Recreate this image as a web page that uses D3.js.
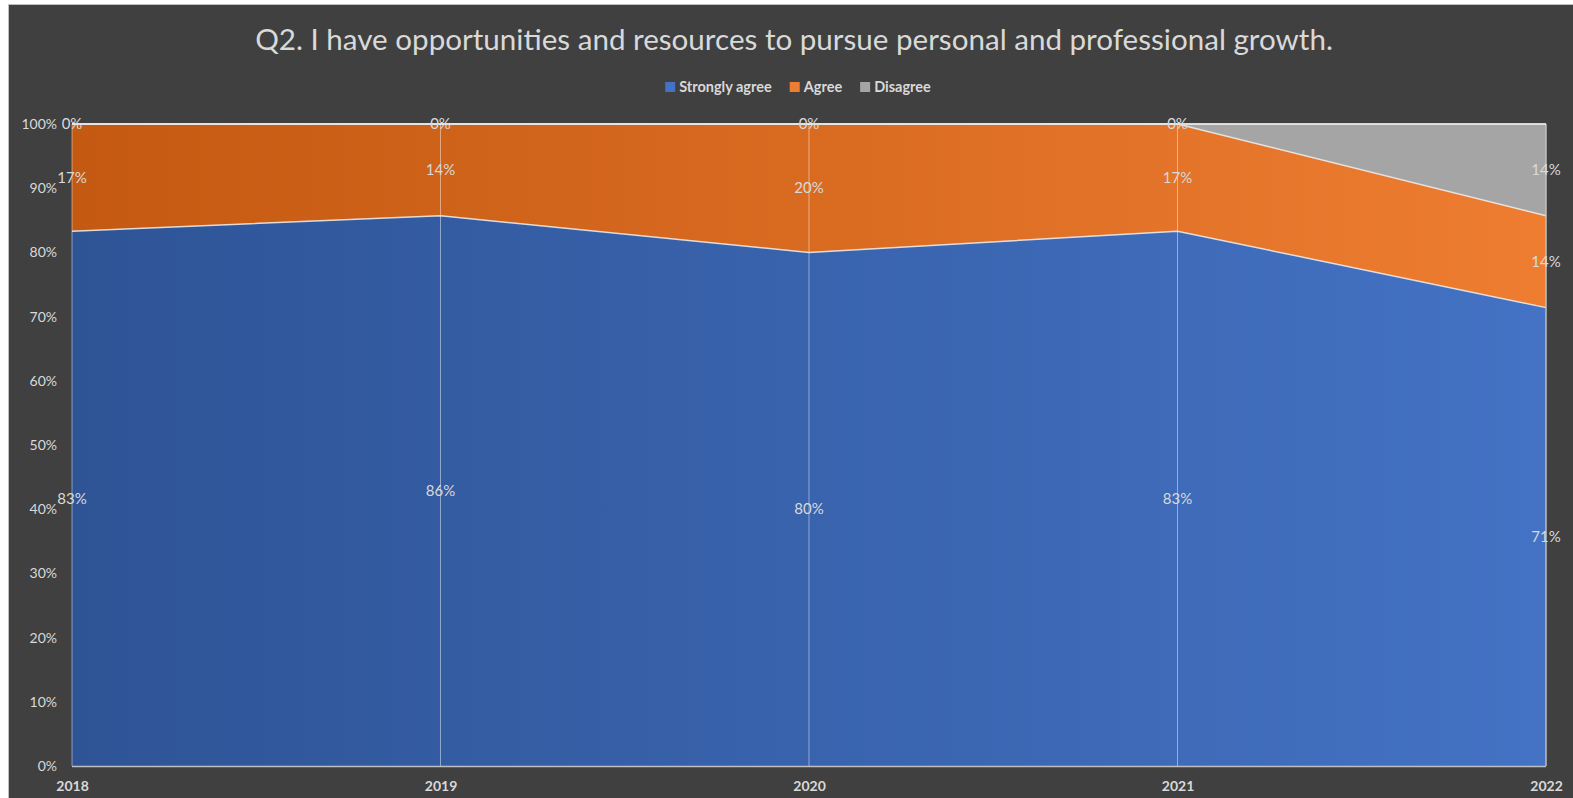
<!DOCTYPE html>
<html>
<head>
<meta charset="utf-8">
<script src="https://cdn.jsdelivr.net/npm/d3@7"></script>
<style>
  html, body { margin: 0; padding: 0; background: #ffffff; overflow: hidden; }
  svg { display: block; }
</style>
</head>
<body>
<svg id="chart" width="1573" height="798"></svg>
<script>
// Survey responses per year (share of respondents, percent)
const years = ["2018", "2019", "2020", "2021", "2022"];
const stronglyAgree = [83.3, 85.7, 80.0, 83.3, 71.4];
const agree = [16.7, 14.3, 20.0, 16.7, 14.3];
const disagree = [0, 0, 0, 0, 14.3];
const seriesNames = ["Strongly agree", "Agree", "Disagree"];
const yTicks = [0, 10, 20, 30, 40, 50, 60, 70, 80, 90, 100];
const titleText = "Q2. I have opportunities and resources to pursue personal and professional growth.";

const W = 1573, H = 798;
const margin = { left: 72, right: 1546, top: 124, bottom: 766 };
const textColor = "#d9d9d9";
const font = "Lato, 'Open Sans', sans-serif";

const svg = d3.select("#chart");

// chart frame
svg.append("rect").attr("x", 8.5).attr("y", 4.5).attr("width", W).attr("height", H)
  .attr("fill", "#404040").attr("stroke", "#bfbfbf").attr("stroke-width", 1);

const rows = years.map((y, i) => ({
  year: y,
  "Strongly agree": stronglyAgree[i],
  "Agree": agree[i],
  "Disagree": disagree[i]
}));

const stack = d3.stack().keys(seriesNames).offset(d3.stackOffsetExpand);
const layers = stack(rows);

const x = d3.scalePoint().domain(years).range([margin.left, margin.right]);
const y = d3.scaleLinear().domain([0, 1]).range([margin.bottom, margin.top]);

// horizontal gradients for each series
const defs = svg.append("defs");
const grads = [
  { id: "gBlue", from: "#2e5496", to: "#4472c4" },
  { id: "gOrange", from: "#c45911", to: "#ee7d31" },
  { id: "gGray", from: "#a5a5a5", to: "#a5a5a5" }
];
grads.forEach(g => {
  const lg = defs.append("linearGradient").attr("id", g.id)
    .attr("gradientUnits", "userSpaceOnUse")
    .attr("x1", margin.left).attr("x2", margin.right).attr("y1", 0).attr("y2", 0);
  lg.append("stop").attr("offset", "0%").attr("stop-color", g.from);
  lg.append("stop").attr("offset", "100%").attr("stop-color", g.to);
});
const fills = ["url(#gBlue)", "url(#gOrange)", "url(#gGray)"];
const swatch = ["#4472c4", "#ed7d31", "#a5a5a5"];

const area = d3.area()
  .x(d => x(d.data.year))
  .y0(d => y(d[0]))
  .y1(d => y(d[1]));
const topLine = d3.line()
  .x(d => x(d.data.year))
  .y(d => y(d[1]));

svg.append("g").selectAll("path").data(layers).join("path")
  .attr("d", area)
  .attr("fill", (d, i) => fills[i]);

// vertical drop lines at each category
svg.append("g").selectAll("line").data(years).join("line")
  .attr("x1", d => x(d)).attr("x2", d => x(d))
  .attr("y1", margin.top).attr("y2", margin.bottom)
  .attr("stroke", "#ffffff").attr("stroke-opacity", 0.45).attr("stroke-width", 1);

// series outlines
svg.append("g").selectAll("path").data(layers).join("path")
  .attr("d", topLine)
  .attr("fill", "none")
  .attr("stroke", "#f2f2f2").attr("stroke-opacity", 0.85).attr("stroke-width", 1.5);

// plot border (right edge and axis)
svg.append("line").attr("x1", margin.right).attr("x2", margin.right)
  .attr("y1", margin.top).attr("y2", margin.bottom)
  .attr("stroke", "#bfbfbf").attr("stroke-width", 1.2);
svg.append("line").attr("x1", margin.left).attr("x2", margin.right)
  .attr("y1", margin.bottom + 0.5).attr("y2", margin.bottom + 0.5)
  .attr("stroke", "#bfbfbf").attr("stroke-width", 1.5);
svg.append("line").attr("x1", margin.left).attr("x2", margin.right)
  .attr("y1", margin.top).attr("y2", margin.top)
  .attr("stroke", "#e6e6e6").attr("stroke-width", 1.5);

// y axis
const yAxis = d3.axisLeft(y)
  .tickValues(yTicks.map(v => v / 100))
  .tickFormat(d => Math.round(d * 100) + "%")
  .tickSize(0).tickPadding(15);
const gy = svg.append("g").attr("transform", `translate(${margin.left},0)`).call(yAxis);
gy.select(".domain").remove();
gy.selectAll("text").attr("fill", textColor).attr("font-size", 14).attr("font-family", font);

// x axis
const xAxis = d3.axisBottom(x).tickSize(0).tickPadding(15);
const gx = svg.append("g").attr("transform", `translate(0,${margin.bottom})`).call(xAxis);
gx.select(".domain").remove();
gx.selectAll("text").attr("fill", textColor).attr("font-size", 14)
  .attr("font-weight", "bold").attr("font-family", font);

// data labels at the middle of each band
const fmt = d3.format(".0%");
layers.forEach((layer, si) => {
  svg.append("g").selectAll("text").data(layer).join("text")
    .attr("x", d => x(d.data.year))
    .attr("y", d => y((d[0] + d[1]) / 2))
    .attr("dy", "0.35em")
    .attr("text-anchor", "middle")
    .attr("fill", textColor)
    .attr("font-size", 15)
    .attr("font-family", font)
    .text(d => fmt(d[1] - d[0]));
});

// title, sized to its line length
const title = svg.append("text")
  .attr("x", 794).attr("y", 50)
  .attr("text-anchor", "middle")
  .attr("fill", textColor)
  .attr("font-family", font)
  .attr("font-size", 28)
  .text(titleText);
const tw = title.node().getComputedTextLength();
title.attr("font-size", 28 * 1078 / tw);

// legend
const legend = svg.append("g");
let lx = 0;
seriesNames.forEach((name, i) => {
  const g = legend.append("g").attr("transform", `translate(${lx},0)`);
  g.append("rect").attr("x", 0).attr("y", -5).attr("width", 10).attr("height", 10)
    .attr("fill", swatch[i]);
  const t = g.append("text").attr("x", 14).attr("y", 0).attr("dy", "0.35em")
    .attr("fill", textColor).attr("font-size", 14.5).attr("font-weight", "bold")
    .attr("font-family", font)
    .text(name);
  lx += 14 + t.node().getComputedTextLength() + 18;
});
const lw = lx - 18;
legend.attr("transform", `translate(${798 - lw / 2},87)`);
</script>
</body>
</html>
